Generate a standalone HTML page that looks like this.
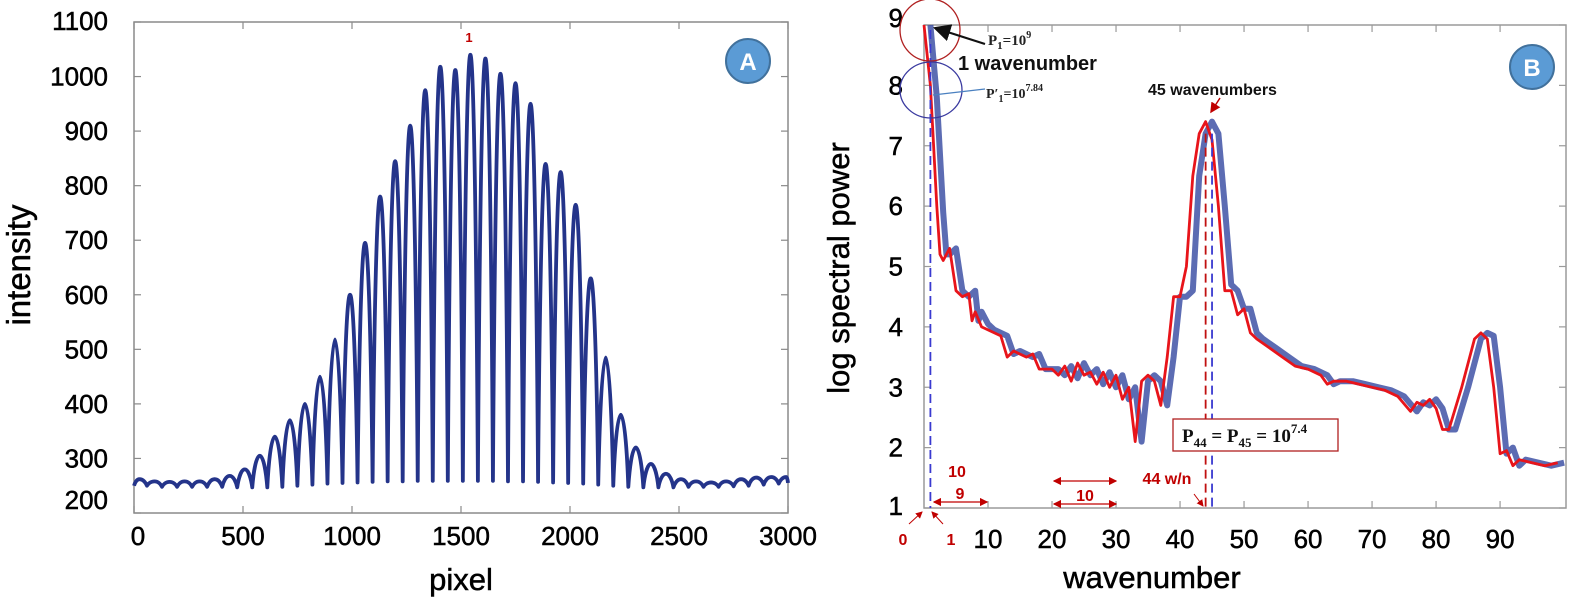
<!DOCTYPE html>
<html><head><meta charset="utf-8"><style>
html,body{margin:0;padding:0;background:#fff;width:1573px;height:600px;overflow:hidden}
svg{display:block;font-family:"Liberation Sans",Arial,sans-serif}
.tk{stroke:#000;stroke-width:0.5}
</style></head><body>
<svg id="fig" width="1573" height="600" viewBox="0 0 1573 600">
<g id="pa"></g>
<g id="pb"></g>
</svg>
<script>
// ---------- Panel A data ----------
const aPeakPixel = [25,94,163,232,301,370,439,508,577,646,715,784,853,922,991,1060,1129,1198,1267,1336,1405,1474,1543,1612,1681,1750,1819,1888,1957,2026,2095,2164,2233,2302,2371,2440,2509,2578,2647,2716,2785,2854,2923,2992];
const aPeakIntensity = [262,258,257,258,258,262,268,280,305,340,370,400,450,518,600,695,780,845,910,975,1018,1012,1040,1033,1005,988,950,840,825,765,630,485,380,320,290,272,262,258,256,258,262,265,266,266];
const aTroughIntensity = [250,248,248,248,248,248,247,247,247,248,250,252,254,255,256,257,258,258,259,259,259,259,259,259,258,258,257,256,255,254,252,250,248,247,247,247,248,248,248,249,250,252,254,255];
const aXTicks = [0,500,1000,1500,2000,2500,3000];
const aYTicks = [200,300,400,500,600,700,800,900,1000,1100];

// ---------- Panel B data ----------
const bRedX = [0,1,2,2.5,3,4,5,6,7,7.5,8,9,10,12,13,14,16,17,18,20,21,22,23,24,25,26,27,28,29,30,31,32,33,34,35,36,37,38,39,40,41,42,43,44,45,46,47,48,49,50,51,52,54,56,58,60,62,63,64,66,68,70,72,74,76,77,78,79,80,81,82,84,86,87,88,89,90,91,92,93,95,97,99];
const bRedY = [9.0,8.0,6.0,5.2,5.1,5.3,4.6,4.5,4.55,4.1,4.25,4.0,3.95,3.85,3.5,3.6,3.5,3.55,3.3,3.3,3.2,3.35,3.1,3.4,3.2,3.25,3.05,3.25,3.0,3.2,2.8,3.0,2.1,3.1,3.2,3.1,2.7,3.5,4.5,4.5,5.0,6.5,7.2,7.4,7.1,6.0,4.6,4.6,4.2,4.3,3.9,3.8,3.65,3.5,3.35,3.3,3.2,3.05,3.1,3.1,3.05,3.0,2.95,2.85,2.6,2.75,2.7,2.8,2.65,2.3,2.3,3.0,3.8,3.9,3.8,3.0,1.9,1.95,1.7,1.8,1.75,1.7,1.75];
const bBlueX = [1,2,3,3.5,4,5,6,7,8,8.5,9,10,11,13,14,15,17,18,19,21,22,23,24,25,26,27,28,29,30,31,32,33,34,35,36,37,38,39,40,41,42,43,44,45,46,47,48,49,50,51,52,53,55,57,59,61,63,64,65,67,69,71,73,75,77,78,79,80,81,82,83,85,87,88,89,90,91,92,93,94,96,98,100];
const bBlueY = [9.0,7.8,5.9,5.2,5.2,5.3,4.6,4.5,4.6,4.1,4.25,4.05,3.95,3.85,3.55,3.6,3.5,3.55,3.3,3.3,3.2,3.35,3.15,3.4,3.2,3.3,3.05,3.25,3.0,3.2,2.8,3.0,2.1,3.1,3.2,3.1,2.7,3.5,4.5,4.5,4.6,6.5,7.2,7.4,7.2,6.0,4.7,4.6,4.3,4.3,3.9,3.8,3.65,3.5,3.35,3.3,3.2,3.05,3.1,3.1,3.05,3.0,2.95,2.85,2.6,2.75,2.7,2.8,2.65,2.3,2.3,3.0,3.8,3.9,3.85,3.0,1.9,2.0,1.7,1.8,1.75,1.7,1.75];
const bXTicks = [10,20,30,40,50,60,70,80,90];
const bYTicks = [1,2,3,4,5,6,7,8,9];

const NS = "http://www.w3.org/2000/svg";
function mk(parent, tag, attrs, text){
  const e = document.createElementNS(NS, tag);
  for (const k in attrs) e.setAttribute(k, attrs[k]);
  if (text !== undefined) e.textContent = text;
  parent.appendChild(e);
  return e;
}

// ---------- Panel A ----------
const pa = document.getElementById('pa');
const A = {l:134, r:788, t:22, b:513, x0:0, x1:3000, y0:200, y1:1100};
const ax = v => A.l + (v - A.x0) / (A.x1 - A.x0) * (A.r - A.l);
const ay = v => A.b - (v - A.y0) / (A.y1 - A.y0) * (A.b - A.t);

let frame = mk(pa, 'rect', {x:A.l, y:A.t, width:A.r-A.l, height:A.b-A.t, fill:'none', stroke:'#8a8a8a', 'stroke-width':1.5});



aXTicks.forEach(v => {
  const x = ax(v);
  let t = mk(pa, 'line', {x1:x, x2:x, y1:A.b, y2:A.b-7, stroke:'#8a8a8a', 'stroke-width':1.2});
  
  
  mk(pa, 'line', {x1:x, x2:x, y1:A.t, y2:A.t+7, stroke:'#8a8a8a', 'stroke-width':1.2});
  let lb = mk(pa, 'text', {x:x + (v===0?4:0), y:545, 'text-anchor':'middle', 'font-size':26, fill:'#000', class:'tk'}, String(v));
  
  
});
aYTicks.forEach(v => {
  const y = ay(v);
  mk(pa, 'line', {x1:A.l, x2:A.l+7, y1:y, y2:y, stroke:'#8a8a8a', 'stroke-width':1.2});
  mk(pa, 'line', {x1:A.r, x2:A.r-7, y1:y, y2:y, stroke:'#8a8a8a', 'stroke-width':1.2});
  let ly = y + 9;
  if (v === 200) ly = y - 4;
  if (v === 1100) ly = y + 8;
  let lb = mk(pa, 'text', {x:108, y:ly, 'text-anchor':'end', 'font-size':26, fill:'#000', class:'tk'}, String(v));
  
  
});
let xt = mk(pa, 'text', {x:461, y:590, 'text-anchor':'middle', 'font-size':31, fill:'#000', class:'tk'}, 'pixel');


let yt = mk(pa, 'text', {x:0, y:0, 'text-anchor':'middle', 'font-size':33, fill:'#000', class:'tk', transform:'translate(30,265) rotate(-90)'}, 'intensity');



// fringe curve
(function(){
  const n = aPeakPixel.length;
  const half = (aPeakPixel[1]-aPeakPixel[0]) / 2;
  const pts = [];
  pts.push([Math.max(0, aPeakPixel[0]-half), aTroughIntensity[0]]);
  for (let i = 0; i < n; i++) {
    pts.push([aPeakPixel[i], aPeakIntensity[i]]);
    const nx = i < n-1 ? (aPeakPixel[i]+aPeakPixel[i+1])/2 : Math.min(3000, aPeakPixel[i]+half);
    pts.push([nx, aTroughIntensity[i]]);
  }
  let d = 'M' + ax(pts[0][0]) + ',' + ay(pts[0][1]);
  for (let i = 1; i < pts.length; i++) {
    const x0 = ax(pts[i-1][0]), y0 = ay(pts[i-1][1]), x1 = ax(pts[i][0]), y1 = ay(pts[i][1]);
    const up = y1 < y0;
    // rounded peaks, narrow troughs
    const c1 = up ? [x0+(x1-x0)*0.15, y0+(y1-y0)*0.45] : [x0+(x1-x0)*0.5, y0];
    const c2 = up ? [x1-(x1-x0)*0.5, y1] : [x1-(x1-x0)*0.15, y1+(y0-y1)*0.45];
    d += ' C' + c1[0] + ',' + c1[1] + ' ' + c2[0] + ',' + c2[1] + ' ' + x1 + ',' + y1;
  }
  let p = mk(pa, 'path', {d:d, fill:'none', stroke:'#24348a', 'stroke-width':3.8, 'stroke-linejoin':'round'});
  
  
})();

let l1 = mk(pa, 'text', {x:469, y:42, 'text-anchor':'middle', 'font-size':13, 'font-weight':'bold', fill:'#c00000'}, '1');


let ba = mk(pa, 'g', {});


mk(ba, 'circle', {cx:748, cy:61, r:22, fill:'#5b9bd5', stroke:'#41719c', 'stroke-width':2});
mk(ba, 'text', {x:748, y:70, 'text-anchor':'middle', 'font-size':24, 'font-weight':'bold', fill:'#fff'}, 'A');

// ---------- Panel B ----------
const pb = document.getElementById('pb');
const B = {l:924, r:1566, t:25, b:508, x0:0, x1:100.3, y0:1, y1:9};
const bx = v => B.l + (v - B.x0) / (B.x1 - B.x0) * (B.r - B.l);
const by = v => B.b - (v - B.y0) / (B.y1 - B.y0) * (B.b - B.t);

let frameB = mk(pb, 'rect', {x:B.l, y:B.t, width:B.r-B.l, height:B.b-B.t, fill:'none', stroke:'#9a9a9a', 'stroke-width':1.5});


bXTicks.forEach(v => {
  const x = bx(v);
  mk(pb, 'line', {x1:x, x2:x, y1:B.b, y2:B.b-7, stroke:'#9a9a9a', 'stroke-width':1.2});
  mk(pb, 'line', {x1:x, x2:x, y1:B.t, y2:B.t+7, stroke:'#9a9a9a', 'stroke-width':1.2});
  let lb = mk(pb, 'text', {x:x, y:548, 'text-anchor':'middle', 'font-size':26, fill:'#000', class:'tk'}, String(v));
  
  
});
bYTicks.forEach(v => {
  const y = by(v);
  mk(pb, 'line', {x1:B.l, x2:B.l+7, y1:y, y2:y, stroke:'#9a9a9a', 'stroke-width':1.2});
  mk(pb, 'line', {x1:B.r, x2:B.r-7, y1:y, y2:y, stroke:'#9a9a9a', 'stroke-width':1.2});
  let ly = y + 9;
  if (v === 9) ly = y + 2;
  if (v === 1) ly = y + 7;
  let lb = mk(pb, 'text', {x:903, y:ly, 'text-anchor':'end', 'font-size':26, fill:'#000', class:'tk'}, String(v));
  
  
});
let xtb = mk(pb, 'text', {x:1152, y:588, 'text-anchor':'middle', 'font-size':31, fill:'#000', class:'tk'}, 'wavenumber');


let ytb = mk(pb, 'text', {x:0, y:0, 'text-anchor':'middle', 'font-size':31, fill:'#000', class:'tk', transform:'translate(849,268) rotate(-90)'}, 'log spectral power');



function linePath(xs, ys){
  return xs.map((x,i) => (i?'L':'M') + bx(x).toFixed(1) + ',' + by(ys[i]).toFixed(1)).join(' ');
}
let blue = mk(pb, 'path', {d:linePath(bBlueX, bBlueY), fill:'none', stroke:'#3347a0', 'stroke-width':6, 'stroke-opacity':0.8, 'stroke-linejoin':'round'});


let red = mk(pb, 'path', {d:linePath(bRedX, bRedY), fill:'none', stroke:'#e8141a', 'stroke-width':2.8, 'stroke-linejoin':'round'});



// dashed markers
let d1 = mk(pb, 'line', {x1:bx(1), x2:bx(1), y1:30, y2:B.b, stroke:'#3a3ad0', 'stroke-width':1.8, 'stroke-dasharray':'9,5'});


let d44 = mk(pb, 'line', {x1:bx(44), x2:bx(44), y1:by(7.2), y2:B.b, stroke:'#c01010', 'stroke-width':1.8, 'stroke-dasharray':'9,5'});


let d45 = mk(pb, 'line', {x1:bx(45), x2:bx(45), y1:by(7.2), y2:B.b, stroke:'#3a3ad0', 'stroke-width':1.8, 'stroke-dasharray':'9,5'});



// annotations
const ann = mk(pb, 'g', {});


mk(ann, 'defs', {}).innerHTML =
 '<marker id="ah" markerWidth="8" markerHeight="8" refX="7" refY="4" orient="auto"><path d="M0,0 L8,4 L0,8 z" fill="#111"/></marker>'+
 '<marker id="ar" markerWidth="7" markerHeight="7" refX="6" refY="3.5" orient="auto-start-reverse"><path d="M0,0 L7,3.5 L0,7 z" fill="#c00000"/></marker>';
mk(ann, 'ellipse', {cx:930, cy:30, rx:30, ry:31, fill:'none', stroke:'#b02020', 'stroke-width':1.3});
mk(ann, 'ellipse', {cx:931, cy:90, rx:31, ry:28, fill:'none', stroke:'#3a3aa0', 'stroke-width':1.3});
mk(ann, 'line', {x1:985, y1:44, x2:935, y2:28, stroke:'#111', 'stroke-width':2.2, 'marker-end':'url(#ah)'});
mk(ann, 'text', {x:988, y:45, 'font-family':'Liberation Serif, serif', 'font-size':15, 'font-weight':'bold', fill:'#222'}).innerHTML = 'P<tspan font-size="11" dy="4">1</tspan><tspan dy="-4">=10</tspan><tspan font-size="10" dy="-7">9</tspan>';
mk(ann, 'text', {x:958, y:70, 'font-size':20, 'font-weight':'bold', fill:'#111'}, '1 wavenumber');
mk(ann, 'line', {x1:933, y1:95, x2:985, y2:89, stroke:'#4a80c0', 'stroke-width':1.3});
mk(ann, 'text', {x:986, y:98, 'font-family':'Liberation Serif, serif', 'font-size':14, 'font-weight':'bold', fill:'#222'}).innerHTML = 'P\u2032<tspan font-size="10" dy="4">1</tspan><tspan dy="-4">=10</tspan><tspan font-size="10" dy="-7">7.84</tspan>';
mk(ann, 'text', {x:1148, y:95, 'font-size':16, 'font-weight':'bold', fill:'#111'}, '45 wavenumbers');
mk(ann, 'line', {x1:1220, y1:98, x2:1211, y2:112, stroke:'#c00000', 'stroke-width':1.5, 'marker-end':'url(#ar)'});
mk(ann, 'rect', {x:1173, y:419, width:165, height:32, fill:'#fff', stroke:'#b02020', 'stroke-width':1.3});
mk(ann, 'text', {x:1182, y:442, 'font-family':'Liberation Serif, serif', 'font-size':19, 'font-weight':'bold', fill:'#111'}).innerHTML = 'P<tspan font-size="13" dy="5">44</tspan><tspan dy="-5"> = P</tspan><tspan font-size="13" dy="5">45</tspan><tspan dy="-5"> = 10</tspan><tspan font-size="13" dy="-9">7.4</tspan>';
// red measurement arrows
mk(ann, 'text', {x:957, y:477, 'text-anchor':'middle', 'font-size':16, 'font-weight':'bold', fill:'#c00000'}, '10');
mk(ann, 'text', {x:960, y:499, 'text-anchor':'middle', 'font-size':16, 'font-weight':'bold', fill:'#c00000'}, '9');
mk(ann, 'line', {x1:934, y1:502, x2:987, y2:502, stroke:'#c00000', 'stroke-width':1.2, 'marker-start':'url(#ar)', 'marker-end':'url(#ar)'});
mk(ann, 'line', {x1:1054, y1:481, x2:1116, y2:481, stroke:'#c00000', 'stroke-width':1.2, 'marker-start':'url(#ar)', 'marker-end':'url(#ar)'});
mk(ann, 'line', {x1:1054, y1:504, x2:1116, y2:504, stroke:'#c00000', 'stroke-width':1.2, 'marker-start':'url(#ar)', 'marker-end':'url(#ar)'});
mk(ann, 'text', {x:1085, y:501, 'text-anchor':'middle', 'font-size':16, 'font-weight':'bold', fill:'#c00000'}, '10');
mk(ann, 'text', {x:1167, y:484, 'text-anchor':'middle', 'font-size':16, 'font-weight':'bold', fill:'#c00000'}, '44 w/n');
mk(ann, 'line', {x1:1194, y1:494, x2:1203, y2:506, stroke:'#c00000', 'stroke-width':1, 'marker-end':'url(#ar)'});
mk(ann, 'text', {x:903, y:545, 'text-anchor':'middle', 'font-size':16, 'font-weight':'bold', fill:'#c00000'}, '0');
mk(ann, 'text', {x:951, y:545, 'text-anchor':'middle', 'font-size':16, 'font-weight':'bold', fill:'#c00000'}, '1');
mk(ann, 'line', {x1:909, y1:524, x2:922, y2:512, stroke:'#c00000', 'stroke-width':1, 'marker-end':'url(#ar)'});
mk(ann, 'line', {x1:943, y1:524, x2:932, y2:512, stroke:'#c00000', 'stroke-width':1, 'marker-end':'url(#ar)'});
let bb = mk(pb, 'g', {});


mk(bb, 'circle', {cx:1532, cy:67, r:22, fill:'#5b9bd5', stroke:'#41719c', 'stroke-width':2});
mk(bb, 'text', {x:1532, y:76, 'text-anchor':'middle', 'font-size':24, 'font-weight':'bold', fill:'#fff'}, 'B');
</script>
</body></html>
